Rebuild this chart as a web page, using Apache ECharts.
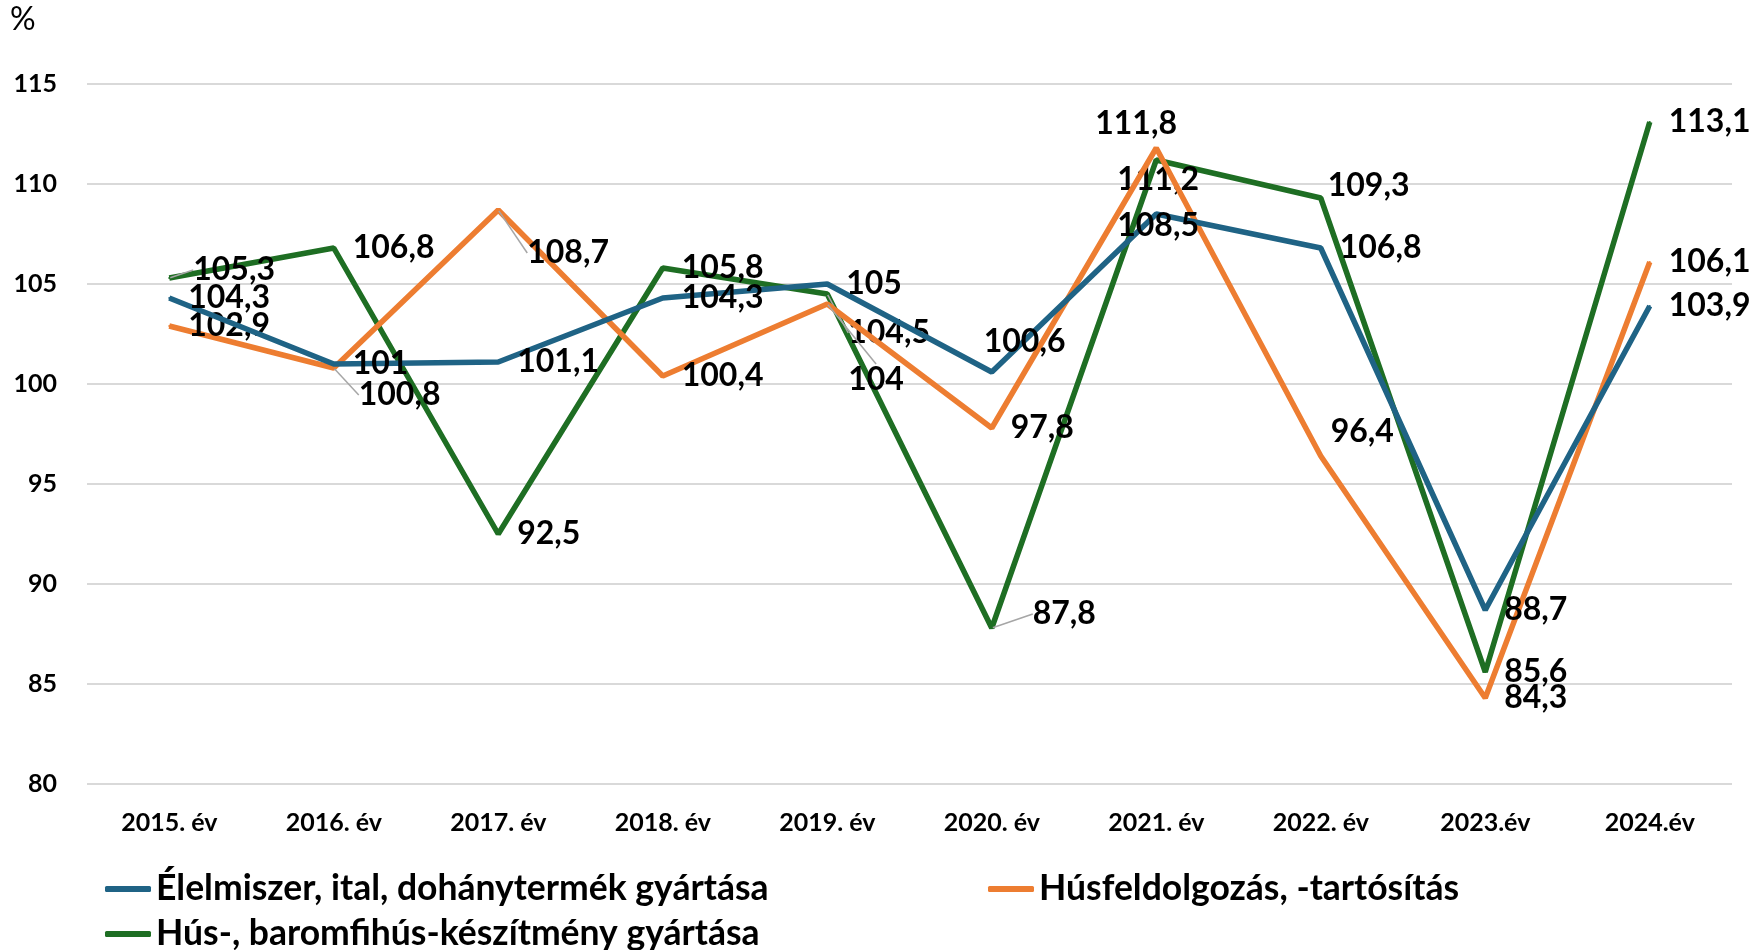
<!DOCTYPE html>
<html>
<head>
<meta charset="utf-8">
<script src="https://cdn.jsdelivr.net/npm/echarts@6/dist/echarts.min.js"></script>
<style>
  html, body { margin: 0; padding: 0; background: #fff; }
  #chart { width: 1754px; height: 950px; }
</style>
</head>
<body>
<div id="chart"></div>
<script>
// categories
var years = ['2015. év', '2016. év', '2017. év', '2018. év', '2019. év', '2020. év', '2021. év', '2022. év', '2023.év', '2024.év']

// series values (%)
var elelmiszer = [104.3, 101, 101.1, 104.3, 105, 100.6, 108.5, 106.8, 88.7, 103.9]
var husfeldolgozas = [102.9, 100.8, 108.7, 100.4, 104, 97.8, 111.8, 96.4, 84.3, 106.1]
var baromfihus = [105.3, 106.8, 92.5, 105.8, 104.5, 87.8, 111.2, 109.3, 85.6, 113.1]

var names = ['Élelmiszer, ital, dohánytermék gyártása', 'Húsfeldolgozás, -tartósítás', 'Hús-, baromfihús-készítmény gyártása']
var colors = ['#1f6385', '#ed7d31', '#1e6e23']

// label nudges (dx, dy) by data index, and which labels get a leader line
var moveBlue = { 5: [-27, -30], 6: [-58, 12] }
var moveOrange = { 1: [6, 27], 2: [10, 43], 4: [2, 76], 6: [-80, -24], 7: [-9, -24] }
var moveGreen = { 0: [5, -8], 4: [2, 39], 5: [22, -14], 6: [-58, 20], 7: [-12, -12] }
var leadOrange = [1, 2, 4]
var leadGreen = [0, 4, 5]

var font = 'Lato, "Open Sans", sans-serif'

function buildData(vals, leaders) {
  return vals.map(function (v, i) {
    var item = { value: v }
    if (leaders.indexOf(i) >= 0) {
      item.labelLine = { show: true }
    }
    return item
  })
}

function makeSeries(idx, vals, moves, leaders) {
  return {
    name: names[idx],
    type: 'line',
    data: buildData(vals, leaders),
    symbol: 'circle',
    symbolSize: 2,
    showSymbol: true,
    z: 3 - idx,
    lineStyle: { color: colors[idx], width: 5.5 },
    itemStyle: { color: colors[idx] },
    label: {
      show: true,
      position: 'right',
      distance: 18,
      color: '#000',
      fontFamily: font,
      fontWeight: 'bold',
      fontSize: 32,
      formatter: function (p) {
        return String(p.value).replace('.', ',')
      }
    },
    labelLine: {
      show: false,
      lineStyle: { color: '#a6a6a6', width: 1.5 }
    },
    labelLayout: function (p) {
      var m = moves[p.dataIndex]
      return m ? { dx: m[0], dy: m[1] } : {}
    },
    emphasis: { disabled: true },
    animation: false
  }
}

var chart = echarts.init(document.getElementById('chart'))

var legendBase = {
  orient: 'horizontal',
  icon: 'roundRect',
  itemWidth: 46,
  itemHeight: 6,
  itemGap: 4,
  textStyle: { fontFamily: font, fontWeight: 'bold', fontSize: 35.5, color: '#000' }
}

chart.setOption({
  backgroundColor: '#fff',
  grid: { left: 87, right: 22, top: 84, bottom: 166 },
  graphic: [{
    type: 'text',
    left: 10,
    top: 4,
    style: { text: '%', fontFamily: font, fontSize: 32, fill: '#000' }
  }],
  legend: [
    Object.assign({ data: [names[0]], left: 100, top: 866 }, legendBase),
    Object.assign({ data: [names[1]], left: 983, top: 866 }, legendBase),
    Object.assign({ data: [names[2]], left: 100, top: 911 }, legendBase)
  ],
  xAxis: {
    type: 'category',
    data: years,
    boundaryGap: true,
    axisLine: { show: false },
    axisTick: { show: false },
    axisLabel: {
      margin: 26,
      color: '#000',
      fontFamily: font,
      fontWeight: 'bold',
      fontSize: 25
    }
  },
  yAxis: {
    type: 'value',
    min: 80,
    max: 115,
    interval: 5,
    axisLine: { show: false },
    axisTick: { show: false },
    axisLabel: {
      margin: 30,
      color: '#000',
      fontFamily: font,
      fontWeight: 'bold',
      fontSize: 25
    },
    splitLine: { lineStyle: { color: '#d9d9d9', width: 2 } }
  },
  series: [
    makeSeries(0, elelmiszer, moveBlue, []),
    makeSeries(1, husfeldolgozas, moveOrange, leadOrange),
    makeSeries(2, baromfihus, moveGreen, leadGreen)
  ]
})
</script>
</body>
</html>
